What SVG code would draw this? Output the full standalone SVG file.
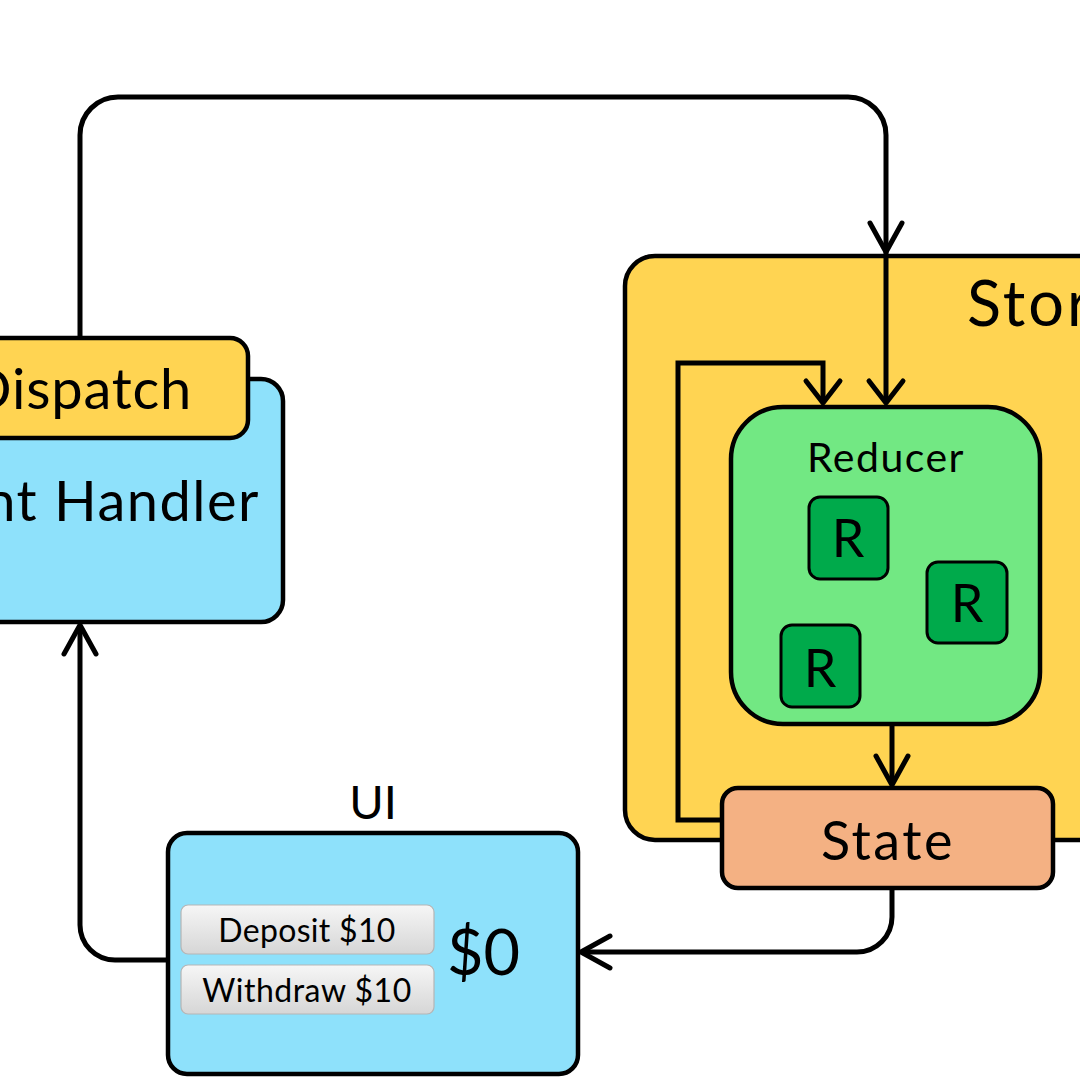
<svg xmlns="http://www.w3.org/2000/svg" width="1080" height="1080" viewBox="0 0 1080 1080">
<style>
.box{stroke:#000;stroke-width:4.5}
.yel{fill:#FFD452}
.blu{fill:#8EE1FB}
.grn{fill:#72E883}
.dg{fill:#00AA4B;stroke:#000;stroke-width:3}
.st{fill:#F4B183}
.t{font-family:Lato,"Noto Sans","Liberation Sans",sans-serif;fill:#000}
.btn{fill:url(#bg);stroke:#B5B5B5;stroke-width:1.2}
.c{fill:none;stroke:#000;stroke-width:5}
</style>
<defs>
<linearGradient id="bg" x1="0" y1="0" x2="0" y2="1">
<stop offset="0" stop-color="#F6F6F6"/>
<stop offset="1" stop-color="#D6D6D6"/>
</linearGradient>
<marker id="ah" markerUnits="userSpaceOnUse" viewBox="-36 -22 42 44" refX="0" refY="0" markerWidth="42" markerHeight="44" orient="auto" overflow="visible">
<path d="M-29,-16 L0,0 L-29,16" fill="none" stroke="#000" stroke-width="5" stroke-linecap="round" stroke-linejoin="round"/>
</marker>
<marker id="ahs" markerUnits="userSpaceOnUse" viewBox="-36 -22 42 44" refX="0" refY="0" markerWidth="42" markerHeight="44" orient="auto" overflow="visible">
<path d="M-22,-17 L0,0 L-22,17" fill="none" stroke="#000" stroke-width="5" stroke-linecap="round" stroke-linejoin="round"/>
</marker>
</defs>
<rect width="1080" height="1080" fill="#fff"/>

<g id="store">
<rect class="box yel" x="625" y="256" width="500" height="584" rx="30"/>
<text class="t" x="967" y="326" font-size="63" letter-spacing="3">Store</text>
</g>

<g id="reducer">
<rect class="box grn" x="731" y="407" width="309" height="317" rx="52"/>
<text class="t" x="886" y="472" font-size="41" letter-spacing="1.5" text-anchor="middle">Reducer</text>
</g>
<g id="r1">
<rect class="dg" x="809" y="497" width="79" height="82" rx="11"/>
<text class="t" x="848" y="557" font-size="52" text-anchor="middle">R</text>
</g>
<g id="r2">
<rect class="dg" x="927" y="562" width="80" height="81" rx="11"/>
<text class="t" x="967" y="622" font-size="52" text-anchor="middle">R</text>
</g>
<g id="r3">
<rect class="dg" x="781" y="625" width="79" height="82" rx="11"/>
<text class="t" x="820" y="687" font-size="52" text-anchor="middle">R</text>
</g>

<g id="state">
<rect class="box st" x="722" y="788" width="331" height="100" rx="16"/>
<text class="t" x="888" y="860" font-size="54" letter-spacing="2.5" text-anchor="middle">State</text>
</g>

<g id="event-handler">
<rect class="box blu" x="-40" y="379" width="323" height="243" rx="22"/>
<text class="t" x="260" y="521" font-size="56" letter-spacing="1.5" text-anchor="end">Event Handler</text>
</g>

<g id="dispatch">
<rect class="box yel" x="-40" y="338" width="288" height="100" rx="18"/>
<text class="t" x="192" y="409" font-size="56" letter-spacing="0.8" text-anchor="end">Dispatch</text>
</g>

<g id="ui">
<text class="t" x="373" y="819" font-size="47" text-anchor="middle">UI</text>
<rect class="box blu" x="168" y="833" width="410" height="241" rx="19"/>
<g id="deposit-btn">
<rect class="btn" x="181" y="905" width="253" height="49" rx="7"/>
<text class="t" x="307" y="942" font-size="32" letter-spacing="0.3" text-anchor="middle">Deposit $10</text>
</g>
<g id="withdraw-btn">
<rect class="btn" x="181" y="965" width="253" height="49" rx="7"/>
<text class="t" x="307" y="1002" font-size="32" letter-spacing="0.5" text-anchor="middle">Withdraw $10</text>
</g>
<text class="t" x="447" y="975" font-size="63">$0</text>
</g>

<g id="connectors">
<path class="c" d="M80,336 V135 A38,38 0 0 1 118,97 H848 A38,38 0 0 1 886,135 V252" marker-end="url(#ah)"/>
<path class="c" d="M886,252 V403" marker-end="url(#ahs)"/>
<path class="c" d="M722,820 H678 V363 H823 V403" marker-end="url(#ahs)"/>
<path class="c" d="M892,725 V785" marker-end="url(#ah)"/>
<path class="c" d="M892,888 V917 A35,35 0 0 1 857,952 H581" marker-end="url(#ah)"/>
<path class="c" d="M168,960 H115 A35,35 0 0 1 80,925 V625" marker-end="url(#ah)"/>
</g>
</svg>
